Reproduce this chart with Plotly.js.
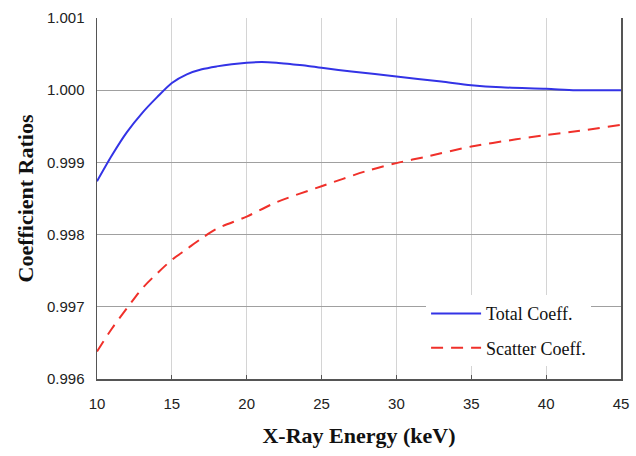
<!DOCTYPE html>
<html>
<head>
<meta charset="utf-8">
<script src="https://cdn.plot.ly/plotly-3.0.1.min.js"></script>
<style>html,body{margin:0;padding:0;background:#fff;}#chart{width:636px;height:456px;}</style>
</head>
<body>
<div id="chart"></div>
<script>
const totalEnergy = [10, 11, 12, 13, 14, 15, 16, 17, 18, 19, 20, 21, 22, 23, 24, 25, 27, 30, 33, 35, 37, 40, 42, 45];
const totalRatio = [0.99874, 0.99910, 0.99942, 0.99968, 0.99990, 1.00010, 1.00022, 1.00029, 1.00033, 1.00036, 1.00038, 1.00039, 1.00038, 1.00036, 1.00034, 1.00031, 1.00026, 1.00019, 1.00012, 1.00007, 1.00004, 1.00002, 1.00000, 1.00000];
const scatterEnergy = [10, 11, 12, 13, 14, 15, 16, 17, 18, 20, 22, 25, 28, 30, 32, 35, 38, 40, 42, 45];
const scatterRatio = [0.99638, 0.99670, 0.99698, 0.99725, 0.99746, 0.99765, 0.99780, 0.99795, 0.99808, 0.99825, 0.99845, 0.99867, 0.99888, 0.99899, 0.99908, 0.99922, 0.99932, 0.99938, 0.99943, 0.99952];
const xTicks = [10, 15, 20, 25, 30, 35, 40, 45];
const yTicks = [0.996, 0.997, 0.998, 0.999, 1.000, 1.001];
const seriesNames = ["Total Coeff.", "Scatter Coeff."];

const traces = [
  {x: totalEnergy, y: totalRatio, name: seriesNames[0], type: 'scatter', mode: 'lines',
   line: {color: '#3333e6', width: 2, shape: 'spline', smoothing: 0.8}, legendgroup: 'a'},
  {x: scatterEnergy, y: scatterRatio, name: seriesNames[1], type: 'scatter', mode: 'lines',
   line: {color: '#f0302a', width: 2, dash: '12px,8px', shape: 'spline', smoothing: 0.8}, legendgroup: 'b'}
];

const layout = {
  width: 636, height: 456,
  margin: {l: 97, r: 15, t: 18, b: 77},
  paper_bgcolor: '#fff', plot_bgcolor: '#fff',
  showlegend: true,
  legend: {
    x: 0.628, y: 0.232, xanchor: 'left', yanchor: 'top',
    bgcolor: '#fff', borderwidth: 0,
    font: {family: 'Liberation Serif, Times New Roman, serif', size: 18, color: '#111'},
    itemwidth: 50, traceorder: 'grouped', tracegroupgap: 8
  },
  xaxis: {
    range: [10, 45], tickvals: xTicks, ticktext: xTicks.map(String),
    showgrid: true, gridcolor: '#d4d4d4', gridwidth: 1,
    showline: true, linecolor: '#555', linewidth: 1.5,
    ticks: 'inside', ticklen: 4, tickcolor: '#555',
    zeroline: false, ticklabelstandoff: 10,
    tickfont: {family: 'Liberation Sans, Arial, sans-serif', size: 15, color: '#222'},
    title: {text: 'X-Ray Energy (keV)', standoff: 17,
            font: {family: 'Liberation Serif, Times New Roman, serif', size: 22, color: '#111', weight: 'bold'}}
  },
  yaxis: {
    range: [0.996, 1.001], tickvals: yTicks, tickformat: '.3f',
    showgrid: true, gridcolor: '#a0a0a0', gridwidth: 1,
    showline: true, linecolor: '#555', linewidth: 1.5, mirror: true,
    ticks: '', zeroline: false, ticklabelstandoff: 8,
    tickfont: {family: 'Liberation Sans, Arial, sans-serif', size: 15, color: '#222'},
    title: {text: 'Coefficient Ratios', standoff: 7,
            font: {family: 'Liberation Serif, Times New Roman, serif', size: 22, color: '#111', weight: 'bold'}}
  }
};

Plotly.newPlot('chart', traces, layout, {displayModeBar: false, staticPlot: true});
</script>
</body>
</html>
